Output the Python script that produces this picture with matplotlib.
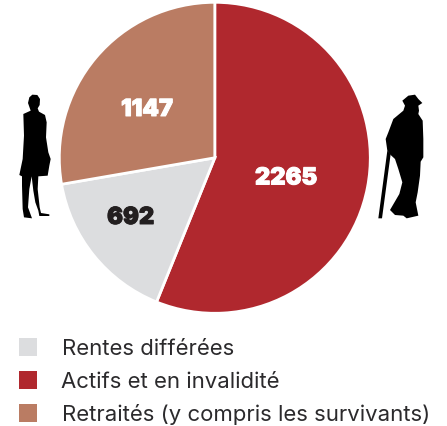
import matplotlib
matplotlib.use("Agg")
import matplotlib.pyplot as plt
import matplotlib.patheffects as pe
from matplotlib.patches import Polygon, Rectangle

W, H = 447, 427
categories = ["Rentes différées", "Actifs et en invalidité", "Retraités (y compris les survivants)"]
values = [692, 2265, 1147]            # the numbers printed on the chart
# The reference's slices are not quite proportional to its printed numbers,
# so the slice sizes are read separately from the picture (degrees of arc).
slice_degrees = [58.2, 202.0, 99.8]
colors = ["#DCDDDF", "#B0282E", "#BA7C63"]
label_colors = ["#231F20", "white", "white"]
plot_order = [1, 0, 2]

plt.rcParams["font.family"] = ["Inter", "DejaVu Sans"]
fig = plt.figure(figsize=(W/100, H/100), dpi=100, facecolor="white")

cx, cy, R = 214.8, 158.8, 155.5
pax = fig.add_axes([(cx-R)/W, 1-(cy+R)/H, 2*R/W, 2*R/H], zorder=1)
pax.pie([slice_degrees[i] for i in plot_order], colors=[colors[i] for i in plot_order],
        startangle=90, counterclock=False, radius=1,
        wedgeprops=dict(edgecolor="white", linewidth=2))
pax.set_xlim(-1, 1); pax.set_ylim(-1, 1); pax.set_aspect("equal"); pax.axis("off")

ax = fig.add_axes([0, 0, 1, 1], zorder=2)
ax.set_xlim(0, W); ax.set_ylim(H, 0); ax.axis("off"); ax.patch.set_alpha(0)

label_pos = {0: (130.5, 219), 1: (286, 179.5), 2: (147, 111)}
for i, (x, y) in label_pos.items():
    ax.text(x, y, f"{values[i]}", color=label_colors[i], fontsize=17, fontweight=900,
            ha="center", va="center", zorder=5,
            path_effects=[pe.withStroke(linewidth=0.7, foreground=label_colors[i])])

rows = [(347.5, 62), (380.5, 61), (413.5, 62)]
for i, (y, x) in enumerate(rows):
    ax.add_patch(Rectangle((19, y-9), 18, 18, color=colors[i], lw=0, zorder=5))
    ax.text(x, y + 1.5, categories[i], fontsize=15.95, color="#2B2A2C", va="center", ha="left", zorder=5)

woman = [(97,47),(112,48),(120,60),(119,78),(113,88),(117,98),(135,108),(140,130),(138,175),(145,220),(152,240),
         (148,260),(143,290),(115,292),(113,330),(119,385),(123,402),(148,406),(148,411),(133,411),(118,411),(115,395),
         (106,370),(100,335),(95,292),(88,330),(84,385),(96,418),(72,415),(68,390),(66,320),(66,292),(58,288),
         (68,240),(72,170),(70,105),(92,95),(84,72),(88,55)]
man = [(115,50),(135,47),(145,60),(157,72),(145,80),(147,95),(145,105),(158,125),(160,180),(160,235),(152,248),
       (150,290),(143,340),(137,370),(145,410),(110,418),(100,410),(75,408),(60,393),(88,345),(97,310),(85,270),
       (75,240),(62,228),(52,215),(47,180),(55,160),(70,120),(100,95),(105,80),(97,65)]
stick = [(52,215),(62,225),(36,418),(25,418)]
for pts, ox in ((woman, 0), (man, 370), (stick, 370)):
    ax.add_patch(Polygon([(ox+a/3, 80+b/3) for a, b in pts], closed=True, color="black", lw=0, zorder=5))

fig.savefig("out.png", dpi=100, facecolor="white")
